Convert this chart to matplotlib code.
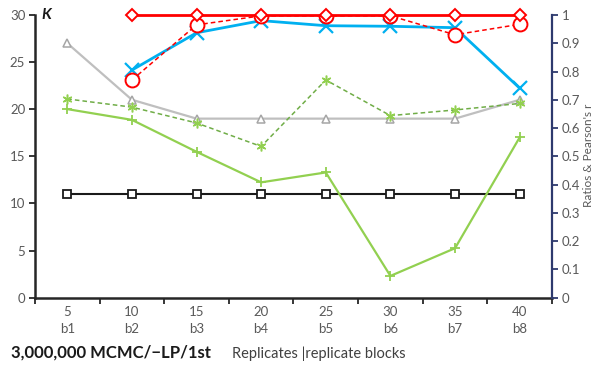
import matplotlib
matplotlib.use("Agg")
import matplotlib.pyplot as plt
import numpy as np

plt.rcParams['font.family'] = ['Lato', 'DejaVu Sans']

# replicate counts and block names on the x axis
replicates = [5, 10, 15, 20, 25, 30, 35, 40]
blocks = ['b1', 'b2', 'b3', 'b4', 'b5', 'b6', 'b7', 'b8']

# K values (left axis)
k_best = [27, 21, 19, 19, 19, 19, 19, 21]
k_fixed = [11, 11, 11, 11, 11, 11, 11, 11]

# ratios and Pearson's r (right axis), from b2 onwards for the red/blue lines
ratio_a = [0.667, 0.629, 0.516, 0.408, 0.443, 0.077, 0.175, 0.567]
ratio_b = [0.703, 0.674, 0.618, 0.535, 0.770, 0.644, 0.664, 0.687]
pearson_top = [1.0, 1.0, 1.0, 1.0, 1.0, 1.0, 1.0]
pearson_mid = [0.770, 0.965, 0.997, 0.997, 0.997, 0.930, 0.967]
pearson_blue = [0.805, 0.937, 0.980, 0.962, 0.960, 0.955, 0.741]

x = np.arange(1, len(replicates) + 1)
x2 = x[1:]

fig = plt.figure(figsize=(5.92, 3.65), dpi=100)
ax = fig.add_axes([0.0591, 0.1844, 0.8733, 0.7746])
ax2 = ax.twinx()

grey_txt = '#595959'

# left axis series
ax.plot(x, k_fixed, color='#1a1a1a', lw=1.5, marker='s', ms=5.5,
        mfc='white', mec='#1a1a1a', mew=1.3, zorder=3)
ax.plot(x, k_best, color='#bfbfbf', lw=1.6, marker='^', ms=6,
        mfc='white', mec='#a6a6a6', mew=1.1, zorder=3)

# right axis series
ax2.plot(x, ratio_a, color='#92d050', lw=1.6, marker='+', ms=7, mew=1.3)
ax2.plot(x, ratio_b, color='#70ad47', lw=1.1, ls=(0, (3, 2)),
         marker=(6, 2, 0), ms=7, mew=1.1, mec='#92d050')
ax2.plot(x2, pearson_blue, color='#00b0f0', lw=2, marker='x', ms=10, mew=1.6)
ax2.plot(x2, pearson_mid, color='#ff0000', lw=1.1, ls=(0, (3, 2)),
         marker='o', ms=10, mfc='white', mec='#ff0000', mew=1.4)
ax2.plot(x2, pearson_top, color='#ff0000', lw=2, marker='D', ms=6.5,
         mfc='white', mec='#ff0000', mew=1.4, clip_on=False)

ax.set_xlim(0.5, len(x) + 0.5)
ax.set_ylim(0, 30)
ax2.set_ylim(0, 1)

ax.set_yticks(np.arange(0, 31, 5))
ax2.set_yticks(np.round(np.arange(0, 1.01, 0.1), 1))
ax2.set_yticklabels(['0'] + ['%.1f' % v for v in np.arange(0.1, 0.95, 0.1)] + ['1'])

# category labels centred, tick marks on the boundaries
ax.set_xticks(np.arange(0.5, len(x) + 1, 1))
ax.set_xticklabels([])
ax.set_xticks(x, minor=True)
ax.set_xticklabels(['%d\n%s' % (r, b) for r, b in zip(replicates, blocks)],
                   minor=True, color=grey_txt, fontsize=9.5, linespacing=1.5)
ax.tick_params(axis='x', which='minor', length=0, pad=6)
ax.tick_params(axis='x', which='major', length=4, width=1.3, color='#262626')
ax.tick_params(axis='y', length=4, width=1.3, color='#262626',
               labelcolor=grey_txt, labelsize=9.5, pad=3)
ax2.tick_params(axis='y', length=4, width=1.3, color='#2e3a6e',
                labelcolor=grey_txt, labelsize=9.5, pad=3)

for a in (ax, ax2):
    a.spines['top'].set_visible(False)
ax.spines['right'].set_visible(False)
ax.spines['left'].set_linewidth(1.8)
ax.spines['left'].set_color('#262626')
ax.spines['bottom'].set_linewidth(1.8)
ax.spines['bottom'].set_color('#262626')
ax2.spines['left'].set_visible(False)
ax2.spines['bottom'].set_visible(False)
ax2.spines['right'].set_linewidth(1.6)
ax2.spines['right'].set_color('#2e3a6e')

ax.text(0.012, 1.0, 'K', transform=ax.transAxes, fontsize=11,
        fontweight='bold', fontstyle='italic', va='center', ha='left',
        color='#1a1a1a')

fig.text(0.984, 0.575, "Ratios & Pearson's r", rotation=90, fontsize=8.5,
         color=grey_txt, ha='left', va='center')
fig.text(0.018, 0.02, '3,000,000 MCMC/\u2212LP/1st', fontsize=12,
         fontweight='bold', color='#1a1a1a', ha='left', va='baseline')
fig.text(0.392, 0.02, 'Replicates |replicate blocks', fontsize=10.5,
         color='#404040', ha='left', va='baseline')

fig.savefig('out.png', dpi=100)
